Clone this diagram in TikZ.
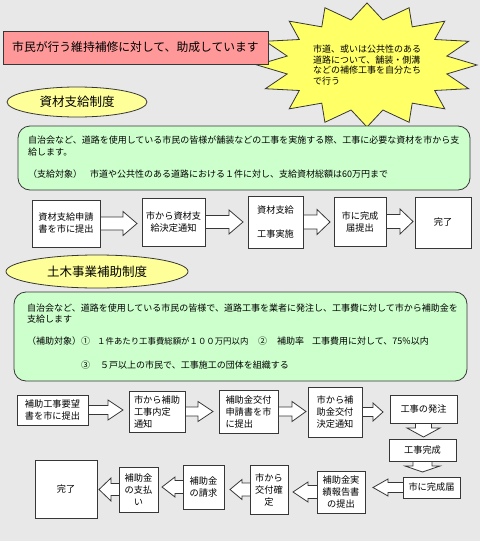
\documentclass[tikz,border=0pt]{standalone}
\usepackage{fontspec}
\setmainfont{Noto Sans CJK JP}
\usetikzlibrary{calc,shapes.geometric}
\pgfdeclarelayer{back}
\pgfdeclarelayer{arrows}
\pgfsetlayers{back,arrows,main}
\definecolor{bgc}{RGB}{232,232,232}
\definecolor{pinkc}{RGB}{255,153,153}
\definecolor{greenc}{RGB}{204,255,204}
\definecolor{yellc}{RGB}{255,255,153}
\definecolor{starc}{RGB}{255,255,102}
\definecolor{edgec}{RGB}{55,55,55}
\tikzset{
  edgeline/.style={draw=edgec, line width=0.8pt},
  box/.style={edgeline, fill=white, inner sep=0pt, outer sep=0pt, font=\fontsize{9.2}{12}\selectfont, align=center},
  lbox/.style={box, align=left},
  blk/.style={edgeline, fill=white, line join=miter},
  txt/.style={anchor=west, inner sep=0pt, font=\fontsize{9}{11.5}\selectfont},
  titlebox/.style={edgeline, fill=pinkc, inner sep=0pt, outer sep=0pt, font=\fontsize{11.8}{14}\selectfont},
  oval/.style={ellipse, edgeline, fill=yellc, inner sep=0pt, outer sep=0pt, font=\fontsize{12.5}{14}\selectfont},
  greenbox/.style={edgeline, fill=greenc, rounded corners=12pt, inner sep=0pt, outer sep=0pt},
  starsty/.style={edgeline, fill=starc, line join=miter},
}
\newcommand\mkbox[7][]{\node[box,#1,minimum width={(#5-#3)*1pt},minimum height={(#6-#4)*1pt}] (#2) at ({(#3+#5)/2},{(#4+#6)/2}) {#7};}
% right block arrow: from, to, gap, head length, shaft half, head half
\newcommand\rarr[6]{\draw[blk] let \p1=(#1.east), \p2=(#2.west) in
  ({\x1},{\y1+#5pt}) -- ({\x2-#3pt-#4pt},{\y1+#5pt}) -- ({\x2-#3pt-#4pt},{\y1+#6pt}) -- ({\x2-#3pt},{\y1}) -- ({\x2-#3pt-#4pt},{\y1-#6pt}) -- ({\x2-#3pt-#4pt},{\y1-#5pt}) -- ({\x1},{\y1-#5pt});}
\newcommand\larr[6]{\draw[blk] let \p1=(#1.west), \p2=(#2.east) in
  ({\x1},{\y1+#5pt}) -- ({\x2+#3pt+#4pt},{\y1+#5pt}) -- ({\x2+#3pt+#4pt},{\y1+#6pt}) -- ({\x2+#3pt},{\y1}) -- ({\x2+#3pt+#4pt},{\y1-#6pt}) -- ({\x2+#3pt+#4pt},{\y1-#5pt}) -- ({\x1},{\y1-#5pt});}
\newcommand\darr[6]{\draw[blk] let \p1=(#1.south), \p2=(#2.north) in
  ({\x1-#5pt},{\y1}) -- ({\x1-#5pt},{\y2+#3pt+#4pt}) -- ({\x1-#6pt},{\y2+#3pt+#4pt}) -- ({\x1},{\y2+#3pt}) -- ({\x1+#6pt},{\y2+#3pt+#4pt}) -- ({\x1+#5pt},{\y2+#3pt+#4pt}) -- ({\x1+#5pt},{\y1});}
\begin{document}
\begin{tikzpicture}[x=1pt,y=-1pt]
\begin{pgfonlayer}{back}
\fill[bgc] (0,0) rectangle (480,541);
\end{pgfonlayer}
\useasboundingbox (0,0) rectangle (480,541);
% starburst
\draw[starsty] ([shift={(367,65)}]90:110pt and 62pt)
  \foreach \k [evaluate=\k as \rf using {1-0.26*mod(\k,2)}] in {1,...,31} { -- ([shift={(367,65)}]{90+\k*11.25}:{\rf*110pt} and {\rf*62pt}) } -- cycle;
\node[anchor=west, inner sep=0pt, align=left, font=\fontsize{9}{10.5}\selectfont] (startext) at (313,65)
  {市道、或いは公共性のある\\道路について、舗装・側溝\\などの補修工事を自分たち\\で行う};
% title
\node[titlebox, minimum width=265pt, minimum height=33pt] (title) at (135.5,47.5) {市民が行う維持補修に対して、助成しています};
% section 1
\node[oval, minimum width=140pt, minimum height=30pt] (sec1) at (77,102) {資材支給制度};
\node[greenbox, minimum width=452pt, minimum height=64pt] (g1) at (244,158) {};
\node[txt] (g1a) at (28,140) {自治会など、道路を使用している市民の皆様が舗装などの工事を実施する際、工事に必要な資材を市から支};
\node[txt] (g1b) at (28,152) {給します。};
\node[txt] (g1c) at (28,174) {（支給対象）};
\node[txt] (g1d) at (90,174) {市道や公共性のある道路における１件に対し、支給資材総額は60万円まで};
\mkbox{A}{32}{200}{100}{247}{資材支給申請\\書を市に提出}
\mkbox{B}{142}{198}{205}{246}{市から資材支\\給決定通知}
\mkbox{C}{248}{196}{303}{248}{資材支給\\[12pt]工事実施}
\mkbox{D}{334}{197}{386}{246}{市に完成\\届提出}
\mkbox{E}{415}{197}{471}{248}{完了}
% section 2
\node[oval, minimum width=182pt, minimum height=33pt] (sec2) at (97,271.5) {土木事業補助制度};
\node[greenbox, minimum width=453pt, minimum height=89pt] (g2) at (240.5,336.5) {};
\node[txt] (g2a) at (27,308) {自治会など、道路を使用している市民の皆様で、道路工事を業者に発注し、工事費に対して市から補助金を};
\node[txt] (g2b) at (27,319) {支給します};
\node[txt] (g2c) at (27,341) {（補助対象）};
\node[txt] (g2d) at (81,341) {①};
\node[txt, font=\fontsize{8.4}{11.5}\selectfont] (g2e) at (97,341) {１件あたり工事費総額が１００万円以内};
\node[txt] (g2f) at (258,341) {②};
\node[txt] (g2g) at (277,341) {補助率};
\node[txt] (g2h) at (312,341) {工事費用に対して、75\%以内};
\node[txt] (g2i) at (81,365) {③};
\node[txt] (g2j) at (100,365) {５戸以上の市民で、工事施工の団体を組織する};
\mkbox{F}{17}{395}{88}{425}{補助工事要望\\書を市に提出}
\mkbox[lbox]{G}{129}{391}{185}{432}{市から補助\\工事内定\\通知}
\mkbox[lbox]{H}{219}{390}{278}{433}{補助金交付\\申請書を市\\に提出}
\mkbox{I}{308}{387}{362}{437}{市から補\\助金交付\\決定通知}
\mkbox{J}{390}{395}{457}{423}{工事の発注}
\mkbox{K}{389}{439}{456}{461}{工事完成}
\mkbox{L}{403}{477}{460}{498}{市に完成届}
\mkbox{M}{317}{471}{365}{513}{補助金実\\績報告書\\の提出}
\mkbox{N}{250}{465}{288}{514}{市から\\交付確\\定}
\mkbox{O}{183}{465}{224}{509}{補助金\\の請求}
\mkbox{P}{119}{467}{158}{512}{補助金\\の支払\\い}
\mkbox{Q}{35}{460}{97}{518}{完了}
\begin{pgfonlayer}{arrows}
\rarr{A}{B}{5}{14}{6.5}{12}
\rarr{B}{C}{5}{14}{6.5}{12}
\rarr{C}{D}{4}{13}{7}{12.5}
\rarr{D}{E}{2}{13}{7}{12.5}
\rarr{F}{G}{6}{15}{4.5}{10}
\rarr{G}{H}{6}{15}{4.5}{10}
\rarr{H}{I}{2}{14}{4.5}{10}
\rarr{I}{J}{7}{10}{4.5}{9}
\darr{J}{K}{2}{9}{8}{16.5}
\darr{K}{L}{5}{6}{9.5}{17.5}
\larr{L}{M}{8}{15}{5}{8.5}
\larr{M}{N}{5}{15}{6.5}{10}
\larr{N}{O}{6}{12}{6.5}{10}
\larr{O}{P}{4}{13}{6.5}{10}
\larr{P}{Q}{2}{12}{6}{11.5}
\end{pgfonlayer}
\end{tikzpicture}
\end{document}
